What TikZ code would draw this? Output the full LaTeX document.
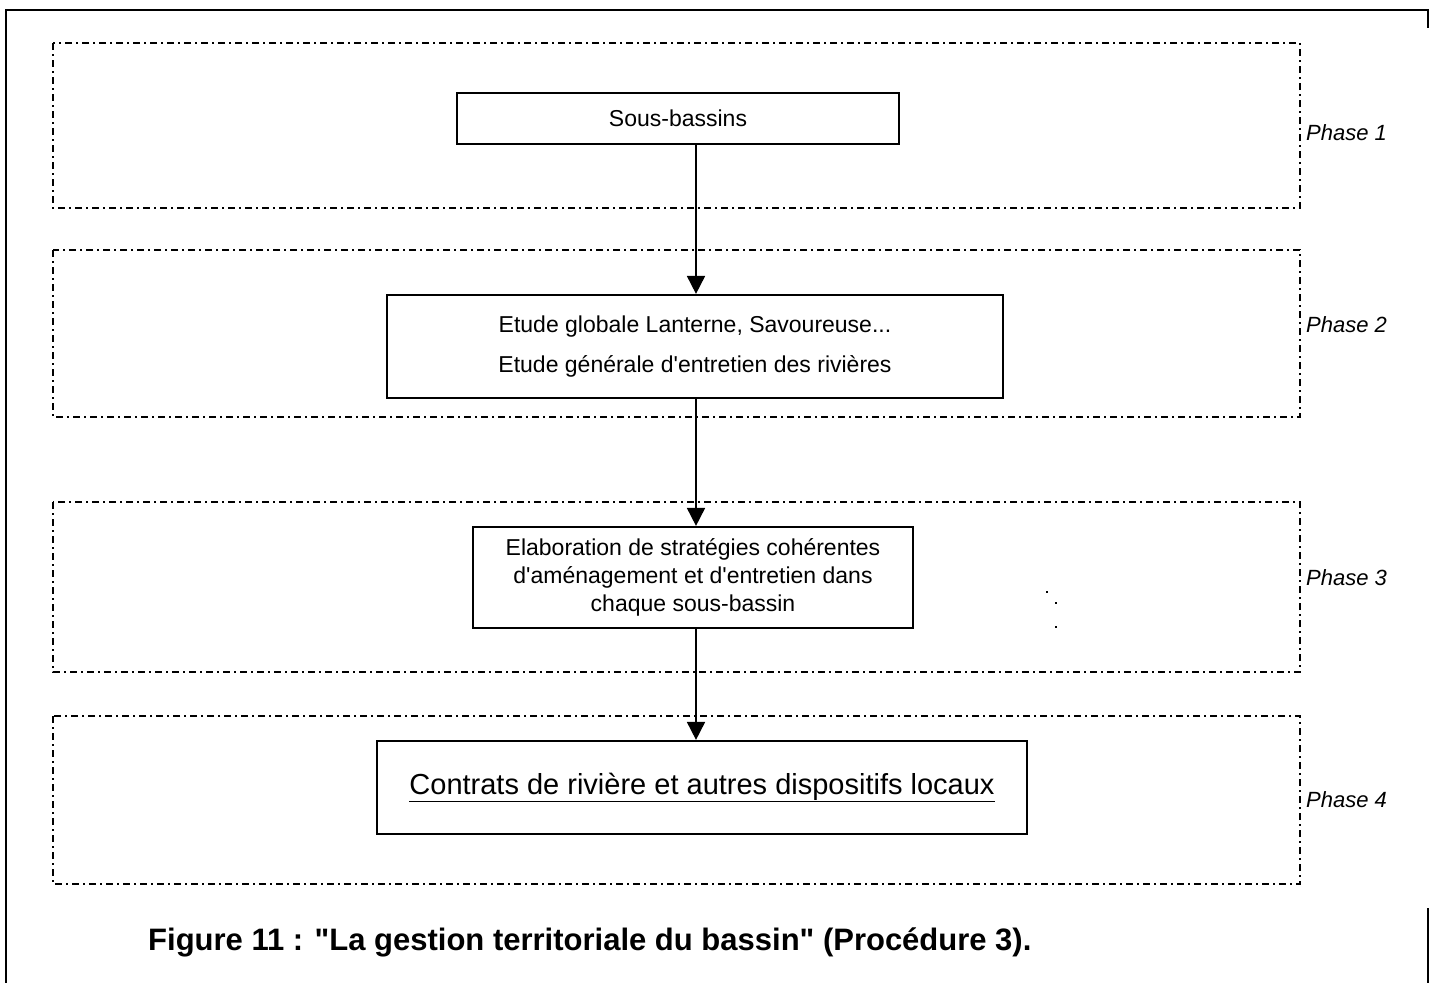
\documentclass[tikz,border=0pt]{standalone}
\usepackage{fontspec}
\setmainfont{Liberation Sans}[Ligatures=TeXOff]
\usetikzlibrary{arrows.meta}
\begin{document}
\begin{tikzpicture}[x=1pt,y=-1pt,
  phasebox/.style={draw, line width=1.6pt, dash pattern=on 7pt off 4pt on 2pt off 4pt},
  stepbox/.style={draw, line width=2.2pt, inner sep=0pt, align=center, font=\fontsize{23}{28}\selectfont},
  flow/.style={line width=1.8pt, -{Triangle[width=18pt,length=18pt]}},
  phaselabel/.style={anchor=west, inner sep=0pt, font=\fontsize{22}{26}\selectfont\itshape},
  frameline/.style={line width=2.5pt}]
\useasboundingbox (0,0) rectangle (1436,983);
% outer frame
\draw[frameline] (6,983) -- (6,10) -- (1428,10) -- (1428,28);
\draw[frameline] (1428,908) -- (1428,983);
% phase boxes
\draw[phasebox] (53,43) rectangle (1300,208);
\draw[phasebox] (53,250) rectangle (1300,417);
\draw[phasebox] (53,502) rectangle (1300,672);
\draw[phasebox] (53,716) rectangle (1300,884);
% phase labels
\node[phaselabel] (p1) at (1306,133) {Phase 1};
\node[phaselabel] (p2) at (1306,325) {Phase 2};
\node[phaselabel] (p3) at (1306,578) {Phase 3};
\node[phaselabel] (p4) at (1306,800) {Phase 4};
% step boxes
\node[stepbox, minimum width=442pt, minimum height=51pt] (b1) at (678,118.5) {Sous-bassins};
\node[stepbox, minimum width=616pt, minimum height=103pt, font=\fontsize{23}{40}\selectfont] (b2) at (695,346.5)
  {Etude globale Lanterne, Savoureuse...\\Etude générale d'entretien des rivières};
\node[stepbox, minimum width=440pt, minimum height=101pt, font=\fontsize{23}{28}\selectfont] (b3) at (693,577.5)
  {Elaboration de stratégies cohérentes\\d'aménagement et d'entretien dans\\chaque sous-bassin};
\node[stepbox, minimum width=650pt, minimum height=93pt, font=\fontsize{29}{34}\selectfont] (b4) at (702,787.5)
  {\underline{Contrats de rivière et autres dispositifs locaux}};
% connectors
\coordinate (ax) at (696,0);
\draw[flow] (b1.south -| ax) -- (b2.north -| ax);
\draw[flow] (b2.south -| ax) -- (b3.north -| ax);
\draw[flow] (b3.south -| ax) -- (b4.north -| ax);
% stray dots
\fill (1046,591) rectangle (1048,593);
\fill (1055,602) rectangle (1057,604);
\fill (1055,626) rectangle (1057,628);
% caption
\node[anchor=west, inner sep=0pt, font=\fontsize{31}{36}\selectfont\bfseries] (cap) at (148,942)
  {Figure 11 : "La gestion territoriale du bassin" (Procédure 3).};
\end{tikzpicture}
\end{document}
